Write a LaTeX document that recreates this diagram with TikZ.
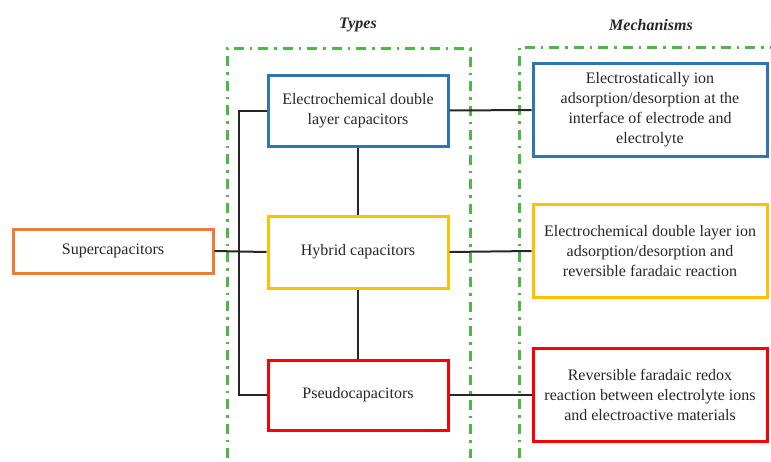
\documentclass[tikz,border=0pt]{standalone}
\usepackage{fontspec}
\setmainfont{Liberation Serif}
\definecolor{gbox}{HTML}{4DB848}
\definecolor{cblue}{HTML}{2E75B6}
\definecolor{corange}{HTML}{ED7D31}
\definecolor{cyellow}{HTML}{FFC000}
\definecolor{cred}{HTML}{FF0000}
\definecolor{txt}{HTML}{262626}
\begin{document}
\begin{tikzpicture}[x=1pt,y=-1pt,
  box/.style={draw, line width=3pt, align=center, inner sep=2pt,
    font=\fontsize{16}{20}\selectfont, text=txt},
  typebox/.style={box, minimum width=180pt, minimum height=71pt},
  mechbox/.style={box, minimum width=234pt, minimum height=93pt},
  group/.style={draw=gbox, line width=3pt,
    dash pattern=on 10pt off 6pt on 2.5pt off 6pt},
  link/.style={draw=black!85, line width=2pt},
  heading/.style={font=\fontsize{16}{20}\selectfont\bfseries\itshape, text=txt}]
\useasboundingbox (0,0) rectangle (771,461);

% group frames (open at the bottom)
\draw[group] (227,458) -- (227,48) -- (470,48) -- (470,458);
\draw[group] (519,458) -- (519,47) -- (790,47);

% headings
\node[heading] (htypes) at (358,25) {Types};
\node[heading] (hmech) at (651,25) {Mechanisms};

% nodes
\node[box, draw=corange, minimum width=200pt, minimum height=44pt] (sup) at (113,251) {Supercapacitors};
\node[typebox, draw=cblue] (edlc) at (358,110.5) {Electrochemical double\\layer capacitors};
\node[typebox, draw=cyellow, minimum height=72pt] (hyb) at (358,252) {Hybrid capacitors};
\node[typebox, draw=cred, minimum height=70pt] (pse) at (358,395) {Pseudocapacitors};

\node[mechbox, draw=cblue] (m1) at (650,110) {Electrostatically ion\\adsorption/desorption at the\\interface of electrode and\\electrolyte};
\node[mechbox, draw=cyellow] (m2) at (650,251) {Electrochemical double layer ion\\adsorption/desorption and\\reversible faradaic reaction};
\node[mechbox, draw=cred] (m3) at (650,395) {Reversible faradaic redox\\reaction between electrolyte ions\\and electroactive materials};

% connectors
\coordinate (jt) at (239,110.5);
\coordinate (jb) at (239,395);
\draw[link] (sup.east) -- (hyb.west);
\draw[link] (edlc.west) -- (jt) -- (jb) -- (pse.west);
\draw[link] (edlc.south) -- (hyb.north);
\draw[link] (hyb.south) -- (pse.north);
\draw[link] (edlc.east) -- (m1.west);
\draw[link] (hyb.east) -- (m2.west);
\draw[link] (pse.east) -- (m3.west);
\end{tikzpicture}
\end{document}
